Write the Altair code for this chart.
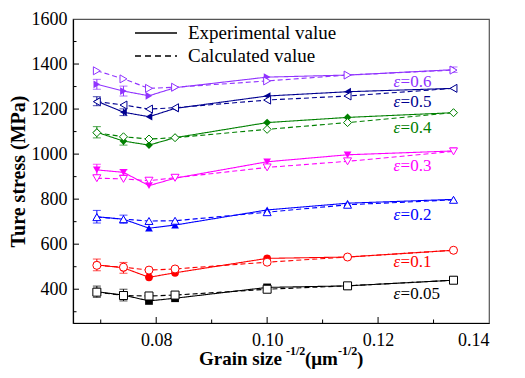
import altair as alt
import pandas as pd

# ---------------- data ----------------
grain = [0.0693, 0.0741, 0.0787, 0.0834, 0.1000, 0.1145, 0.1336]
strains = ["0.05", "0.1", "0.2", "0.3", "0.4", "0.5", "0.6"]
colors = ["#000000", "#ff0000", "#0000ff", "#ff00ff", "#008000", "#000090", "#9033ff"]
shapes = ["square", "circle", "triangle-up", "triangle-down", "diamond", "triangle-left", "triangle-right"]

exp_005 = [389, 374, 348, 360, 408, 415, 440]
exp_01 = [508, 495, 453, 473, 537, 543, 573]
exp_02 = [722, 711, 671, 685, 752, 782, 799]
exp_03 = [930, 919, 860, 893, 966, 997, 1014]
exp_04 = [1097, 1058, 1040, 1073, 1140, 1163, 1184]
exp_05 = [1235, 1186, 1166, 1203, 1258, 1277, 1292]
exp_06 = [1310, 1280, 1259, 1295, 1342, 1351, 1375]

calc_005 = [387, 372, 370, 374, 400, 415, 440]
calc_01 = [506, 498, 485, 490, 520, 543, 573]
calc_02 = [720, 711, 703, 704, 742, 775, 797]
calc_03 = [893, 890, 882, 895, 941, 968, 1012]
calc_04 = [1095, 1077, 1067, 1073, 1110, 1140, 1184]
calc_05 = [1233, 1218, 1200, 1206, 1240, 1258, 1292]
calc_06 = [1370, 1334, 1292, 1297, 1325, 1351, 1373]

err_005 = [25, 26, 0, 0, 0, 0, 0]
err_01 = [26, 24, 0, 0, 0, 0, 0]
err_02 = [28, 18, 0, 0, 0, 0, 0]
err_03 = [25, 12, 0, 0, 0, 0, 0]
err_04 = [25, 18, 0, 0, 0, 0, 0]
err_05 = [20, 15, 0, 0, 0, 0, 0]
err_06 = [22, 22, 0, 0, 0, 0, 12]

label_x = 0.1228
label_y = [378, 520, 730, 947, 1117, 1233, 1322]

x_major = [0.08, 0.10, 0.12, 0.14]
x_minor = [0.07, 0.09, 0.11, 0.13]
y_major = [400, 600, 800, 1000, 1200, 1400]
y_minor = [300, 500, 700, 900, 1100, 1300, 1500]

exp_all = [exp_005, exp_01, exp_02, exp_03, exp_04, exp_05, exp_06]
calc_all = [calc_005, calc_01, calc_02, calc_03, calc_04, calc_05, calc_06]
err_all = [err_005, err_01, err_02, err_03, err_04, err_05, err_06]

rows = []
for s, ev, cv, er in zip(strains, exp_all, calc_all, err_all):
    for i, g in enumerate(grain):
        rows.append({"g": g, "v": ev[i], "eps": s, "kind": "Experimental", "lo": ev[i] - er[i], "hi": ev[i] + er[i], "err": er[i]})
        rows.append({"g": g, "v": cv[i], "eps": s, "kind": "Calculated", "lo": cv[i], "hi": cv[i], "err": 0})
df = pd.DataFrame(rows)
df_err = df[df["err"] > 0]
df_exp = df[df["kind"] == "Experimental"]
df_calc = df[df["kind"] == "Calculated"]

W, H = 416, 304
FONT = "Liberation Serif"

xs = alt.Scale(domain=[0.065, 0.14], nice=False, zero=False)
ys = alt.Scale(domain=[250, 1600], nice=False, zero=False)
cs = alt.Scale(domain=strains, range=colors)
ss = alt.Scale(domain=strains, range=shapes)

xaxis = alt.Axis(values=x_major, format=".2f", ticks=False, tickSize=0, grid=False,
                 labelFont=FONT, labelFontSize=18, labelColor="black", labelPadding=8,
                 domainColor="black", domainWidth=1.2, title=None)
yaxis = alt.Axis(values=y_major + [1600], format="d", ticks=False, tickSize=0, grid=False,
                 labelFont=FONT, labelFontSize=18, labelColor="black", labelPadding=6,
                 domainColor="black", domainWidth=1.2, title="Ture stress (MPa)", titleFont=FONT,
                 titleFontSize=20, titleFontWeight="bold", titleColor="black",
                 titleX=-55, titleY=H / 2, titleAngle=270, titleAlign="center",
                 titleBaseline="middle")


def X(field):
    return alt.X(field, scale=xs, axis=xaxis)


def Y(field):
    return alt.Y(field, scale=ys, axis=yaxis)


col = alt.Color("eps:N", scale=cs, legend=None)
shp = alt.Shape("eps:N", scale=ss, legend=None)

lines = alt.Chart(df).mark_line(strokeWidth=1.1).encode(
    x=X("g:Q"), y=Y("v:Q"), color=col,
    strokeDash=alt.StrokeDash("kind:N", scale=alt.Scale(domain=["Experimental", "Calculated"], range=[[1, 0], [5, 3]]), legend=None),
    detail="kind:N",
)

err_rule = alt.Chart(df_err).mark_rule(strokeWidth=1).encode(
    x=X("g:Q"), y=Y("lo:Q"), y2="hi:Q", color=col)
err_top = alt.Chart(df_err).mark_tick(orient="horizontal", size=8, thickness=1).encode(
    x=X("g:Q"), y=Y("hi:Q"), color=col)
err_bot = alt.Chart(df_err).mark_tick(orient="horizontal", size=8, thickness=1).encode(
    x=X("g:Q"), y=Y("lo:Q"), color=col)

pts_exp = alt.Chart(df_exp).mark_point(filled=True, size=60, opacity=1).encode(
    x=X("g:Q"), y=Y("v:Q"), color=col, shape=shp)
pts_calc = alt.Chart(df_calc).mark_point(filled=False, fill="white", fillOpacity=1, size=64, strokeWidth=1, opacity=1).encode(
    x=X("g:Q"), y=Y("v:Q"), color=col, shape=shp)

lab_df = pd.DataFrame({"eps": strains, "x": [label_x] * len(strains), "y": label_y,
                       "txt": ["=" + s for s in strains]})
lab_eps = alt.Chart(lab_df).mark_text(font=FONT, fontSize=17, fontStyle="italic", align="left", baseline="middle").encode(
    x=X("x:Q"), y=Y("y:Q"), text=alt.value("ε"), color=col)
lab_val = alt.Chart(lab_df).mark_text(font=FONT, fontSize=17, align="left", baseline="middle", dx=7).encode(
    x=X("x:Q"), y=Y("y:Q"), text="txt:N", color=col)

# inward ticks
ytm = alt.Chart(pd.DataFrame({"t": y_major})).mark_rule(color="black", strokeWidth=1).encode(
    y=Y("t:Q"), x=alt.value(0), x2=alt.value(6))
ytn = alt.Chart(pd.DataFrame({"t": y_minor})).mark_rule(color="black", strokeWidth=1).encode(
    y=Y("t:Q"), x=alt.value(0), x2=alt.value(3.5))
xtm = alt.Chart(pd.DataFrame({"t": x_major[:-1]})).mark_rule(color="black", strokeWidth=1).encode(
    x=X("t:Q"), y=alt.value(H), y2=alt.value(H - 6))
xtn = alt.Chart(pd.DataFrame({"t": x_minor})).mark_rule(color="black", strokeWidth=1).encode(
    x=X("t:Q"), y=alt.value(H), y2=alt.value(H - 3.5))

# legend (drawn manually)
legend_items = ["Experimental value", "Calculated value"]
leg1_line = alt.Chart(pd.DataFrame({"a": [0]})).mark_rule(color="black", strokeWidth=1.6).encode(
    x=alt.value(62), x2=alt.value(104), y=alt.value(14))
leg2_line = alt.Chart(pd.DataFrame({"a": [0]})).mark_rule(color="black", strokeWidth=1.6, strokeDash=[6, 4]).encode(
    x=alt.value(62), x2=alt.value(104), y=alt.value(37))
leg1_txt = alt.Chart(pd.DataFrame({"t": [legend_items[0]]})).mark_text(font=FONT, fontSize=19, align="left", baseline="middle", color="black").encode(
    x=alt.value(115), y=alt.value(14), text="t:N")
leg2_txt = alt.Chart(pd.DataFrame({"t": [legend_items[1]]})).mark_text(font=FONT, fontSize=19, align="left", baseline="middle", color="black").encode(
    x=alt.value(115), y=alt.value(37), text="t:N")

# x-axis title with superscripts
xt_main = ["Grain size", "(μm", ")"]
xt_sup = ["-1/2", "-1/2"]
xt_layers = []
for t, px in zip(xt_main, [126, 232, 284]):
    xt_layers.append(alt.Chart(pd.DataFrame({"t": [t]})).mark_text(
        font=FONT, fontSize=19, fontWeight="bold", align="left", baseline="alphabetic", color="black").encode(
        x=alt.value(px), y=alt.value(H + 42), text="t:N"))
for t, px in zip(xt_sup, [213, 265]):
    xt_layers.append(alt.Chart(pd.DataFrame({"t": [t]})).mark_text(
        font=FONT, fontSize=12, fontWeight="bold", align="left", baseline="alphabetic", color="black").encode(
        x=alt.value(px), y=alt.value(H + 32), text="t:N"))

chart = alt.layer(
    lines, err_rule, err_top, err_bot, pts_exp, pts_calc, lab_eps, lab_val,
    ytm, ytn, xtm, xtn, leg1_line, leg2_line, leg1_txt, leg2_txt, *xt_layers
).properties(
    width=W, height=H,
    background="white",
    autosize=alt.AutoSizeParams(type="none"),
    padding={"left": 65, "top": 11, "right": 20, "bottom": 55},
).configure_view(
    stroke="#555555", strokeWidth=1.2
)

chart.save("out.html", embed_options={"renderer": "svg", "actions": False})
